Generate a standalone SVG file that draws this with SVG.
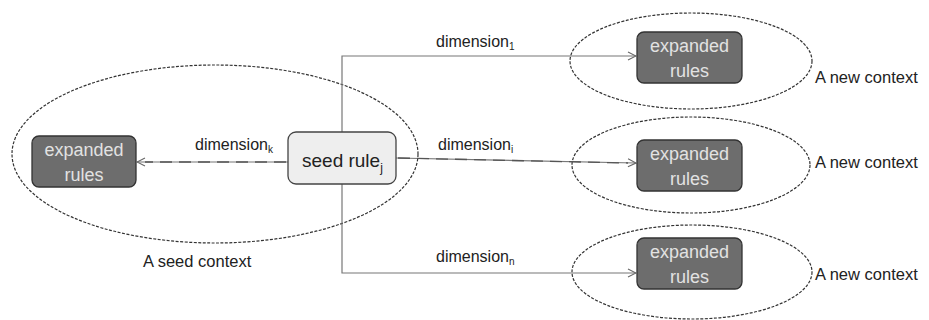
<svg xmlns="http://www.w3.org/2000/svg" width="929" height="320" viewBox="0 0 929 320">
<style>
.ctx{fill:none;stroke:#333;stroke-width:1.2;stroke-dasharray:3,1.5}
.exp{fill:#6d6d6d;stroke:#333;stroke-width:1.3}
.seed{fill:#eeeeee;stroke:#444;stroke-width:1.3}
.wt{font-family:"Liberation Sans",Arial,sans-serif;font-size:18px;fill:#e2e2e2;text-anchor:middle}
.bt{font-family:"Liberation Sans",Arial,sans-serif;font-size:16px;fill:#222}
.ct{font-family:"Liberation Sans",Arial,sans-serif;font-size:16.5px;fill:#222}
.st{font-family:"Liberation Sans",Arial,sans-serif;font-size:19px;fill:#222}
.line{fill:none;stroke:#777;stroke-width:1.2}
.hl{fill:none;stroke:#555;stroke-width:1.3;stroke-dasharray:12,7}
</style>
<defs>
<marker id="arr" markerWidth="10" markerHeight="10" refX="9" refY="5" orient="auto" markerUnits="userSpaceOnUse">
<polyline points="1,1 9,5 1,9" fill="none" stroke="#666" stroke-width="1.1"/>
</marker>
</defs>
<rect width="929" height="320" fill="#fff"/>
<g id="contexts">
<ellipse id="seed-context" class="ctx" cx="215" cy="154" rx="203" ry="89"/>
<ellipse id="ctx1" class="ctx" cx="691" cy="61" rx="121" ry="48"/>
<ellipse id="ctx2" class="ctx" cx="691" cy="165" rx="119" ry="48"/>
<ellipse id="ctx3" class="ctx" cx="692" cy="272" rx="120" ry="47"/>
</g>
<g id="connectors">
<polyline class="line" points="342,162 342,56 636,56" marker-end="url(#arr)"/>
<polyline class="line" points="342,184 342,273 636,273" marker-end="url(#arr)"/>
<line class="line" x1="288" y1="162" x2="137" y2="162" marker-end="url(#arr)"/>
<line class="hl" x1="286" y1="162" x2="145" y2="162"/>
<line class="line" x1="396" y1="158" x2="636" y2="163" marker-end="url(#arr)"/>
<line class="hl" x1="398" y1="158" x2="628" y2="163"/>
</g>
<g id="seed-rule">
<rect class="seed" x="288" y="132" width="108" height="52" rx="8"/>
<text class="st" x="302" y="167">seed rule<tspan font-size="12" dy="5">j</tspan></text>
</g>
<g id="expanded-left">
<rect class="exp" x="32" y="136" width="104" height="51" rx="7"/>
<text class="wt" x="84" y="156">expanded</text>
<text class="wt" x="84" y="181">rules</text>
</g>
<g id="expanded-1">
<rect class="exp" x="637" y="32" width="105" height="51" rx="7"/>
<text class="wt" x="689.5" y="52">expanded</text>
<text class="wt" x="689.5" y="77">rules</text>
</g>
<g id="expanded-2">
<rect class="exp" x="637" y="140" width="105" height="51" rx="7"/>
<text class="wt" x="689.5" y="160">expanded</text>
<text class="wt" x="689.5" y="185">rules</text>
</g>
<g id="expanded-3">
<rect class="exp" x="637" y="238" width="105" height="51" rx="7"/>
<text class="wt" x="689.5" y="258">expanded</text>
<text class="wt" x="689.5" y="283">rules</text>
</g>
<g id="labels">
<text class="bt" x="195" y="150">dimension<tspan font-size="10" dy="3">k</tspan></text>
<text class="bt" x="436" y="47">dimension<tspan font-size="10" dy="3">1</tspan></text>
<text class="bt" x="438" y="150">dimension<tspan font-size="10" dy="3">i</tspan></text>
<text class="bt" x="436" y="262">dimension<tspan font-size="10" dy="3">n</tspan></text>
<text class="ct" x="143" y="267">A seed context</text>
<text class="ct" x="815" y="83">A new context</text>
<text class="ct" x="815" y="168">A new context</text>
<text class="ct" x="815" y="280">A new context</text>
</g>
</svg>
